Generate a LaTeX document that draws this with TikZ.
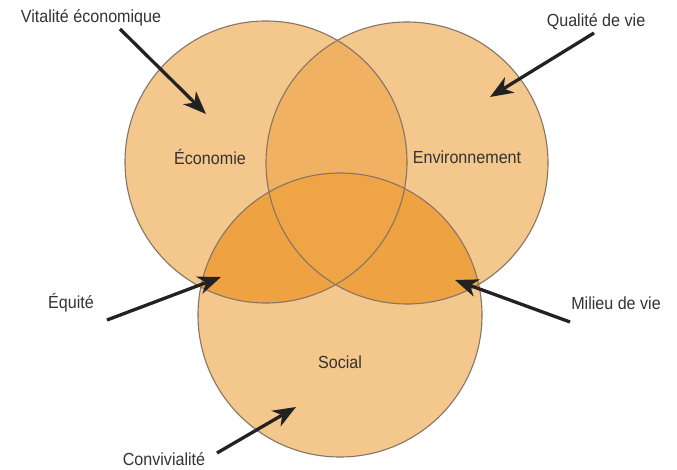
\documentclass[tikz,border=0pt]{standalone}
\usepackage{fontspec}
\usepackage{graphicx}
\setmainfont{Liberation Sans}
\usetikzlibrary{arrows.meta}
\definecolor{light}{HTML}{F4C78C}
\definecolor{ecoenv}{HTML}{F0B162}
\definecolor{dbl}{HTML}{EFA242}
\definecolor{triple}{HTML}{EFA545}
\definecolor{edge}{HTML}{857565}
\definecolor{ink}{HTML}{333333}
\definecolor{arrowc}{HTML}{222222}
\newcommand{\lbl}[1]{\scalebox{0.92}[1]{#1}}
\tikzset{
  txt/.style={text=ink, font=\fontsize{17.5}{20}\selectfont, inner sep=0pt},
  rim/.style={draw=edge, line width=1.1pt},
  arr/.style={draw=arrowc, line width=3.3pt, -{Stealth[length=23pt,width=18pt,inset=7pt]}},
}
\begin{document}
\begin{tikzpicture}[x=1pt,y=-1pt]
\useasboundingbox (0,0) rectangle (677,470);
\fill[white] (0,0) rectangle (677,470);
% centres
\coordinate (ce) at (266,162);
\coordinate (cv) at (407,163);
\coordinate (cs) at (340,315);
% base circles
\fill[light] (ce) circle (141pt);
\fill[light] (cv) circle (141pt);
\fill[light] (cs) circle (142pt);
% pairwise overlaps
\begin{scope}
  \clip (ce) circle (141pt);
  \fill[ecoenv] (cv) circle (141pt);
  \fill[dbl] (cs) circle (142pt);
\end{scope}
\begin{scope}
  \clip (cv) circle (141pt);
  \fill[dbl] (cs) circle (142pt);
\end{scope}
\begin{scope}
  \clip (ce) circle (141pt);
  \clip (cv) circle (141pt);
  \fill[triple] (cs) circle (142pt);
\end{scope}
% outlines
\draw[rim] (ce) circle (141pt);
\draw[rim] (cv) circle (141pt);
\draw[rim] (cs) circle (142pt);
% circle labels
\node[txt] (eco) at (210,157) {\lbl{Économie}};
\node[txt] (env) at (467,157) {\lbl{Environnement}};
\node[txt] (soc) at (340,362) {\lbl{Social}};
% outer labels
\node[txt] (vit) at (91,18) {\lbl{Vitalité économique}};
\node[txt] (qua) at (596,22) {\lbl{Qualité de vie}};
\node[txt] (equ) at (71,303) {\lbl{Équité}};
\node[txt] (mil) at (616,303) {\lbl{Milieu de vie}};
\node[txt] (con) at (164,459) {\lbl{Convivialité}};
% arrow ends
\coordinate (vitS) at (120,29);
\coordinate (vitT) at (206,114);
\coordinate (quaS) at (594,33);
\coordinate (quaT) at (490,97);
\coordinate (equS) at (107,320);
\coordinate (equT) at (221,277);
\coordinate (milS) at (570,322);
\coordinate (milT) at (455,280);
\coordinate (conS) at (217,453);
\coordinate (conT) at (296,407);
\draw[arr] (vitS) -- (vitT);
\draw[arr] (quaS) -- (quaT);
\draw[arr] (equS) -- (equT);
\draw[arr] (milS) -- (milT);
\draw[arr] (conS) -- (conT);
\end{tikzpicture}
\end{document}
